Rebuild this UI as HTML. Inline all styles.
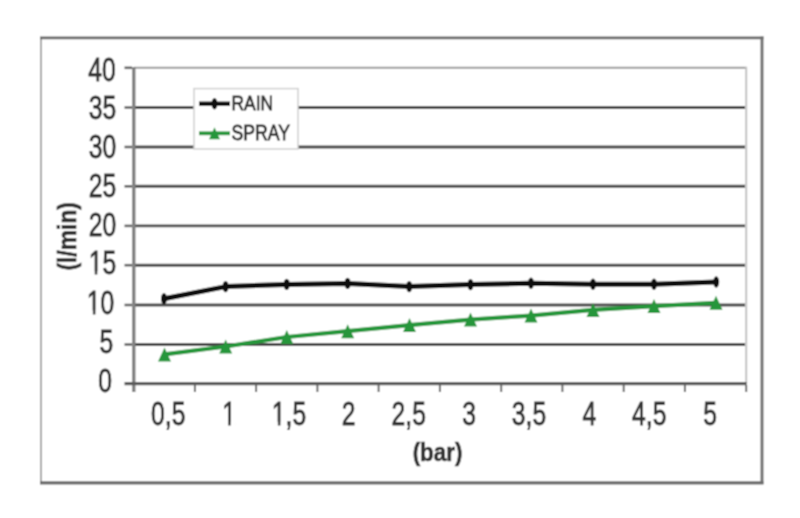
<!DOCTYPE html>
<html><head><meta charset="utf-8"><style>
html,body{margin:0;padding:0;background:#fff;}
body{width:800px;height:518px;overflow:hidden;}
svg{display:block;}
text{font-family:"Liberation Sans",Arial,sans-serif;fill:#333;stroke:#333;stroke-width:0.85px;}
</style></head><body>
<svg width="800" height="518" viewBox="0 0 800 518">
<filter id="bl" x="0" y="0" width="800" height="518" filterUnits="userSpaceOnUse"><feConvolveMatrix order="3" kernelMatrix="1 2 1 2 4 2 1 2 1" divisor="16" edgeMode="duplicate"/></filter>
<g filter="url(#bl)">
<rect x="0" y="0" width="800" height="518" fill="#fff"/>
<!-- outer frame -->
<line x1="41" y1="38" x2="41" y2="482.5" stroke="#a8a8a8" stroke-width="2"/>
<line x1="40" y1="37.8" x2="763.5" y2="37.8" stroke="#686868" stroke-width="2.8"/>
<line x1="762" y1="36.5" x2="762" y2="484" stroke="#707070" stroke-width="3"/>
<line x1="40" y1="482.9" x2="763.5" y2="482.9" stroke="#6a6a6a" stroke-width="3.3"/>
<!-- plot area border -->
<line x1="134" y1="67.8" x2="747" y2="67.8" stroke="#9a9a9a" stroke-width="2"/>
<line x1="746.2" y1="67" x2="746.2" y2="383.5" stroke="#c2c2c2" stroke-width="2"/>

<g stroke="#4a4a4a" stroke-width="2.9">
<line x1="134" y1="344.5" x2="745" y2="344.5"/>
<line x1="134" y1="305.0" x2="745" y2="305.0"/>
<line x1="134" y1="265.2" x2="745" y2="265.2"/>
<line x1="134" y1="225.9" x2="745" y2="225.9"/>
<line x1="134" y1="186.3" x2="745" y2="186.3"/>
<line x1="134" y1="147.0" x2="745" y2="147.0"/>
<line x1="134" y1="107.5" x2="745" y2="107.5"/>
</g>
<line x1="133.8" y1="67" x2="133.8" y2="392" stroke="#808080" stroke-width="3.4"/>
<line x1="124.5" y1="383.6" x2="746.7" y2="383.6" stroke="#5a5a5a" stroke-width="3.2"/>
<g stroke="#666" stroke-width="2.6">
<line x1="124.5" y1="344.5" x2="132" y2="344.5"/>
<line x1="124.5" y1="305.0" x2="132" y2="305.0"/>
<line x1="124.5" y1="265.2" x2="132" y2="265.2"/>
<line x1="124.5" y1="225.9" x2="132" y2="225.9"/>
<line x1="124.5" y1="186.3" x2="132" y2="186.3"/>
<line x1="124.5" y1="147.0" x2="132" y2="147.0"/>
<line x1="124.5" y1="107.5" x2="132" y2="107.5"/>
<line x1="124.5" y1="67.8" x2="132" y2="67.8"/>
</g>
<g stroke="#666" stroke-width="2">
<line x1="194.9" y1="385" x2="194.9" y2="392"/>
<line x1="256.1" y1="385" x2="256.1" y2="392"/>
<line x1="317.4" y1="385" x2="317.4" y2="392"/>
<line x1="378.6" y1="385" x2="378.6" y2="392"/>
<line x1="439.9" y1="385" x2="439.9" y2="392"/>
<line x1="501.2" y1="385" x2="501.2" y2="392"/>
<line x1="562.4" y1="385" x2="562.4" y2="392"/>
<line x1="623.7" y1="385" x2="623.7" y2="392"/>
<line x1="684.9" y1="385" x2="684.9" y2="392"/>
<line x1="746.2" y1="385" x2="746.2" y2="392"/>
</g>
<g font-size="32.5" text-anchor="end">
<text transform="translate(115.8,80.6) scale(0.76,1)">40</text>
<text transform="translate(116.3,119.3) scale(0.76,1)">35</text>
<text transform="translate(116.3,158.4) scale(0.76,1)">30</text>
<text transform="translate(116.2,196.6) scale(0.76,1)">25</text>
<text transform="translate(116.2,236.0) scale(0.76,1)">20</text>
<text clip-path="url(#c1_0)" transform="translate(116.2,274.1) scale(0.76,1)">15</text>
<text clip-path="url(#c1_1)" transform="translate(114.3,313.7) scale(0.76,1)">10</text>
<text transform="translate(113.2,352.6) scale(0.76,1)">5</text>
<text transform="translate(112.1,391.8) scale(0.76,1)">0</text>
</g>
<g font-size="32.5" text-anchor="middle">
<text transform="translate(168.2,424.8) scale(0.76,1)">0,5</text>
<text clip-path="url(#c1_2)" transform="translate(229.0,424.8) scale(0.76,1)">1</text>
<text clip-path="url(#c1_3)" transform="translate(289.0,424.8) scale(0.76,1)">1,5</text>
<text transform="translate(348.5,424.8) scale(0.76,1)">2</text>
<text transform="translate(408.7,424.8) scale(0.76,1)">2,5</text>
<text transform="translate(469.0,424.8) scale(0.76,1)">3</text>
<text transform="translate(529.0,424.8) scale(0.76,1)">3,5</text>
<text transform="translate(589.3,424.8) scale(0.76,1)">4</text>
<text transform="translate(649.2,424.8) scale(0.76,1)">4,5</text>
<text transform="translate(710.0,424.8) scale(0.76,1)">5</text>
</g>
<text font-size="26" font-weight="bold" style="stroke-width:0.7px" text-anchor="middle" transform="translate(437.5,461) scale(0.86,1)">(bar)</text>
<text font-size="26" font-weight="bold" style="stroke-width:0.7px" text-anchor="middle" transform="translate(76,236.3) rotate(-90) scale(0.88,1)">(l/min)</text>
<polyline fill="none" stroke="#111" stroke-width="5" stroke-linejoin="round" points="164,298.7 225.6,286.6 286.7,284.4 347.6,283.4 409.2,286.6 470.5,284.6 531,283.3 593,284.2 654,284.2 716.2,282"/>
<g fill="#111"><ellipse cx="164" cy="298.7" rx="3" ry="5.7"/><ellipse cx="225.6" cy="286.6" rx="3" ry="5.7"/><ellipse cx="286.7" cy="284.4" rx="3" ry="5.7"/><ellipse cx="347.6" cy="283.4" rx="3" ry="5.7"/><ellipse cx="409.2" cy="286.6" rx="3" ry="5.7"/><ellipse cx="470.5" cy="284.6" rx="3" ry="5.7"/><ellipse cx="531" cy="283.3" rx="3" ry="5.7"/><ellipse cx="593" cy="284.2" rx="3" ry="5.7"/><ellipse cx="654" cy="284.2" rx="3" ry="5.7"/><ellipse cx="716.2" cy="282" rx="3" ry="5.7"/></g>
<polyline fill="none" stroke="#25963a" stroke-width="4.2" stroke-linejoin="round" points="164.5,354.4 225.7,346.5 286.8,337 347.7,331.2 409.5,325.1 470.5,319.6 531,315.6 593,309.9 654,306.1 716,302.8"/>
<g fill="#25963a"><path d="M164.5,347.4 L171.0,361.4 L158.0,361.4Z"/><path d="M225.7,339.5 L232.2,353.5 L219.2,353.5Z"/><path d="M286.8,330.0 L293.3,344.0 L280.3,344.0Z"/><path d="M347.7,324.2 L354.2,338.2 L341.2,338.2Z"/><path d="M409.5,318.1 L416.0,332.1 L403.0,332.1Z"/><path d="M470.5,312.6 L477.0,326.6 L464.0,326.6Z"/><path d="M531.0,308.6 L537.5,322.6 L524.5,322.6Z"/><path d="M593.0,302.9 L599.5,316.9 L586.5,316.9Z"/><path d="M654.0,299.1 L660.5,313.1 L647.5,313.1Z"/><path d="M716.0,295.8 L722.5,309.8 L709.5,309.8Z"/></g>
<defs><clipPath id="c1_0" clipPathUnits="userSpaceOnUse"><rect x="-500" y="-500" width="1000" height="496.89"/><rect x="-28.18" y="-20" width="3.26" height="40"/><rect x="-18.07" y="-20" width="500" height="60"/></clipPath><clipPath id="c1_1" clipPathUnits="userSpaceOnUse"><rect x="-500" y="-500" width="1000" height="496.89"/><rect x="-28.18" y="-20" width="3.26" height="40"/><rect x="-18.07" y="-20" width="500" height="60"/></clipPath><clipPath id="c1_2" clipPathUnits="userSpaceOnUse"><rect x="-500" y="-500" width="1000" height="496.89"/><rect x="-1.08" y="-20" width="3.26" height="40"/><rect x="9.04" y="-20" width="500" height="60"/></clipPath><clipPath id="c1_3" clipPathUnits="userSpaceOnUse"><rect x="-500" y="-500" width="1000" height="496.89"/><rect x="-14.63" y="-20" width="3.26" height="40"/><rect x="-4.52" y="-20" width="500" height="60"/></clipPath></defs>
<rect x="194" y="88.6" width="104" height="60.4" fill="#fff" stroke="#d0d0d0" stroke-width="1.5"/>
<line x1="199" y1="103.7" x2="230" y2="103.7" stroke="#111" stroke-width="4.4"/>
<ellipse cx="214.5" cy="103.7" rx="3" ry="5.7" fill="#111"/>
<line x1="199" y1="133.3" x2="230" y2="133.3" stroke="#25963a" stroke-width="3.8"/>
<g fill="#25963a"><path d="M214.5,127.3 L220.0,139.3 L209.0,139.3Z"/></g>
<g font-size="21" style="stroke-width:1px">
<text transform="translate(231.5,110.3) scale(0.83,1)">RAIN</text>
<text transform="translate(231.5,140.4) scale(0.84,1.03)">SPRAY</text>
</g>
</g>
</svg>
</body></html>
